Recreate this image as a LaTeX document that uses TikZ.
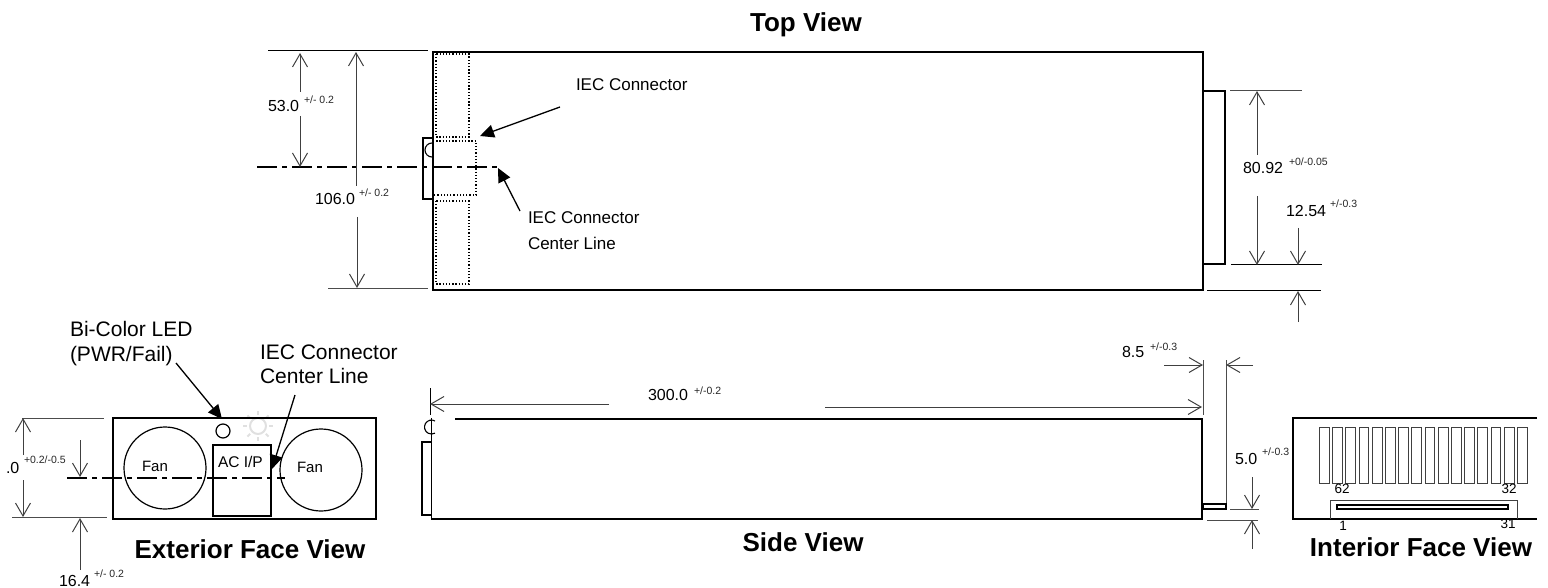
\documentclass[tikz,border=0pt]{standalone}
\usepackage{fontspec}
\setmainfont{Liberation Sans}
\usetikzlibrary{arrows.meta}
\definecolor{dimgray}{gray}{0.25}
\newcommand{\fs}[1]{\fontsize{#1}{#1}\selectfont}
\tikzset{
  x=1pt,y=-1pt,
  body/.style={draw=black,line width=1.5pt},
  thin box/.style={draw=black!75,line width=1pt},
  dimline/.style={draw=dimgray,line width=1pt},
  dimarrow/.style={dimline,-{Straight Barb[length=13pt,width=15pt,line width=1pt]}},
  leader/.style={draw=black,line width=1.3pt,-{Triangle[length=14pt,width=13pt]}},
  extline/.style={draw=black!70,line width=1pt},
  dotbox/.style={draw=black,line width=1.3pt,dash pattern=on 1.3pt off 1.9pt},
  center line/.style={draw=black,line width=1.2pt,dash pattern=on 20pt off 5pt on 5pt off 5pt},
  txt/.style={inner sep=0pt,outer sep=0pt,anchor=west,text=black},
  lbl/.style={txt,font=\fs{16}},
  sup/.style={txt,font=\fs{10.5},text=black!85},
  callout/.style={txt,font=\fs{17},align=left},
  title/.style={inner sep=0pt,outer sep=0pt,anchor=center,font=\bfseries\fs{26}},
}
\begin{document}
\begin{tikzpicture}
\useasboundingbox (0,0) rectangle (1548,588);
% ---------- Top view
\node[title] (ttop) at (806,25) {Top View};
\draw[body] (433,52) rectangle (1203,290);
\draw[body] (1203,91) rectangle (1225,264);
\draw[body,line width=1.1pt] (433,138) -- (423,138) -- (423,199) -- (433,199);
\draw[line width=1.1pt] (432,143) arc[start angle=270,end angle=90,radius=7];
\draw[dotbox] (436,54) rectangle (469,137);
\draw[dotbox] (433,137.5) -- (469,137.5);
\draw[dotbox] (433,141) -- (476,141) -- (476,195) -- (433,195);
\draw[dotbox] (436,201) rectangle (469,284);
\draw[center line] (257,167) -- (501,167);
\draw[extline,black] (268,51) -- (428,51);
\draw[extline] (328,288.5) -- (428,288.5);
\draw[dimarrow] (300,92) -- (300,53);
\draw[dimarrow] (300,116) -- (300,167);
\draw[dimarrow] (356,186) -- (356,52);
\draw[dimarrow] (357,217) -- (357,288);
\node[lbl] (a53) at (268,106) {53.0};
\node[sup] (s53) at (304,100) {+/- 0.2};
\node[lbl] (a106) at (315,199) {106.0};
\node[sup] (s106) at (359,193) {+/- 0.2};
\coordinate (iecA) at (560,107);
\coordinate (iecB) at (480,136);
\draw[leader] (iecA) -- (iecB);
\node[callout] (iec) at (576,85) {IEC Connector};
\coordinate (clA) at (520,211);
\coordinate (clB) at (498,168);
\draw[leader] (clA) -- (clB);
\node[callout,anchor=north west] (cl) at (528,212) {IEC Connector\\[9pt]Center Line};
% right dims
\draw[extline] (1230,91) -- (1302,91);
\draw[extline,black] (1231,265) -- (1322,265);
\draw[extline,black] (1207,290.5) -- (1321,290.5);
\draw[dimarrow] (1257,155) -- (1257,91);
\draw[dimarrow] (1257,196) -- (1257,265);
\draw[dimarrow] (1298,228) -- (1298,265);
\draw[dimarrow] (1298,322) -- (1298,291);
\node[lbl] (a80) at (1243,168) {80.92};
\node[sup] (s80) at (1289,162) {+0/-0.05};
\node[lbl] (a12) at (1286,211) {12.54};
\node[sup] (s12) at (1330,204) {+/-0.3};
% ---------- Exterior face
\begin{scope}[black!12,line width=2pt]
\draw (258,426) circle[radius=8];
\foreach \a in {0,45,...,315} \draw (258,426) ++(\a:11) -- ++(\a:4);
\end{scope}
\draw[body] (113,418) rectangle (376,519);
\draw[line width=1.2pt] (165,468) circle[radius=41];
\draw[line width=1.2pt] (321,470) circle[radius=41];
\draw[line width=1.2pt] (223,431) circle[radius=7];
\draw[body,line width=1.2pt] (213,445) rectangle (271,516);
\draw[center line] (67,478) -- (285,478);
\node[txt,font=\fs{15}] (f1) at (142,466) {Fan};
\node[txt,font=\fs{15}] (f2) at (297,467) {Fan};
\node[txt,font=\fs{15.5}] (ac) at (218,462) {AC I/P};
\draw[extline] (22,418) -- (104,418);
\draw[extline] (12,517.5) -- (107,517.5);
\draw[dimarrow] (23,455) -- (23,418);
\draw[dimarrow] (23,480) -- (23,517);
\draw[dimarrow] (80,440) -- (80,477);
\draw[dimarrow] (80,570) -- (80,518);
\node[lbl] (a0) at (6,468) {.0};
\node[sup] (s0) at (24,460) {+0.2/-0.5};
\node[lbl] (a16) at (59,581) {16.4};
\node[sup] (s16) at (94,574) {+/- 0.2};
\coordinate (ledA) at (176,363);
\coordinate (ledB) at (222,419);
\draw[leader] (ledA) -- (ledB);
\coordinate (cl2A) at (295,395);
\coordinate (cl2B) at (272,469);
\draw[leader] (cl2A) -- (cl2B);
\node[txt,font=\fs{21},align=left,anchor=north west] (bi) at (70,321) {Bi-Color LED\\[4pt](PWR/Fail)};
\node[txt,font=\fs{21},align=left,anchor=north west] (iec2) at (260,345) {IEC Connector\\[3pt]Center Line};
\node[title] (text) at (250,549) {Exterior Face View};
% ---------- Side view
\draw[body] (431,519) -- (1202,519) -- (1202,419) -- (455,419);
\draw[line width=1.5pt,black] (431.5,418) -- (431.5,519);
\draw[body,line width=1.1pt] (431,442) -- (422,442) -- (422,515) -- (431,515);
\draw[line width=1.1pt] (435,421) arc[start angle=300,end angle=60,radius=7];
\draw[body,line width=1.1pt] (1203,504) rectangle (1226,509);
\draw[draw=black,line width=1pt] (430,388) -- (430,415);
\draw[dimarrow] (609,404) -- (430,404);
\draw[dimarrow] (825,407) -- (1202,407);
\node[lbl] (a300) at (648,395) {300.0};
\node[sup] (s300) at (694,391) {+/-0.2};
\draw[extline] (1203,360) -- (1203,415);
\draw[extline] (1226,360) -- (1226,503);
\draw[dimarrow] (1164,365) -- (1203,365);
\draw[dimarrow] (1253,365) -- (1226,365);
\node[lbl] (a85) at (1122,352) {8.5};
\node[sup] (s85) at (1150,347) {+/-0.3};
\draw[extline] (1230,509) -- (1259,509);
\draw[extline] (1207,520) -- (1258,520);
\draw[dimarrow] (1252,477) -- (1252,509);
\draw[dimarrow] (1252,549) -- (1252,520);
\node[lbl] (a5) at (1235,459) {5.0};
\node[sup] (s5) at (1262,452) {+/-0.3};
\node[title] (tside) at (803,542) {Side View};
% ---------- Interior face
\draw[body] (1537,418) -- (1293,418) -- (1293,519) -- (1537,519);
\foreach \i in {0,...,15}
  \draw[thin box] ({1319.5+13.2*\i},427) rectangle ++(9.7,56);
\draw[thin box] (1330,519) -- (1330,500) -- (1517,500) -- (1517,519);
\draw[body,line width=1.2pt] (1337,505) rectangle (1508,509);
\node[txt,anchor=center,font=\fs{13.5}] (n62) at (1342,489) {62};
\node[txt,anchor=center,font=\fs{13.5}] (n32) at (1509,489) {32};
\node[txt,anchor=center,font=\fs{13.5}] (n1) at (1343,526) {1};
\node[txt,anchor=center,font=\fs{13.5}] (n31) at (1508,524) {31};
\node[title] (tint) at (1421,547) {Interior Face View};
\end{tikzpicture}
\end{document}
